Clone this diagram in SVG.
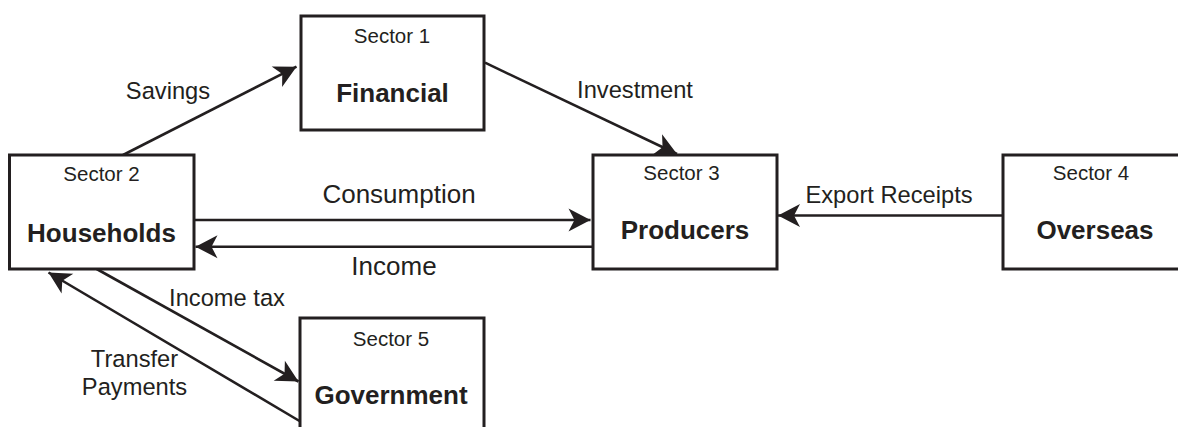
<svg xmlns="http://www.w3.org/2000/svg" width="1178" height="427" viewBox="0 0 1178 427">
  <style>
    .box { fill: #ffffff; stroke: #231f20; stroke-width: 3; }
    .flow { fill: none; stroke: #231f20; stroke-width: 2.6; marker-end: url(#head); }
    .plain { fill: none; stroke: #231f20; stroke-width: 2.6; }
    text { font-family: "Liberation Sans", Arial, sans-serif; fill: #231f20; text-anchor: middle; }
    .sector { font-size: 20.5px; }
    .name { font-size: 26px; font-weight: bold; }
    .label { font-size: 23.7px; }
    .big { font-size: 26px; }
  </style>
  <defs>
    <marker id="head" markerUnits="userSpaceOnUse" viewBox="-23 -12 24 24" refX="0" refY="0" markerWidth="24" markerHeight="24" orient="auto">
      <path d="M0,0 L-22,-11.5 L-16,0 L-22,11.5 Z" fill="#231f20"/>
    </marker>
  </defs>
  <rect width="1178" height="427" fill="#ffffff"/>

  <!-- flows between sectors -->
  <g id="connectors">
    <line class="flow" x1="123" y1="155" x2="296.5" y2="66.7"/>
    <line class="flow" x1="485" y1="62.7" x2="677" y2="154"/>
    <line class="flow" x1="194" y1="220" x2="590.5" y2="220"/>
    <line class="flow" x1="592" y1="246.7" x2="195.5" y2="246.7"/>
    <line class="flow" x1="1002" y1="215.5" x2="778" y2="215.5"/>
    <line class="flow" x1="96.7" y1="269" x2="298.5" y2="381.5"/>
    <line class="flow" x1="299.5" y1="421" x2="48.5" y2="272.5"/>
    <text class="label" x="168" y="99">Savings</text>
    <text class="label" x="635" y="98.3">Investment</text>
    <text class="big" x="399" y="202.7">Consumption</text>
    <text class="big" x="394" y="275">Income</text>
    <text class="label" x="889" y="203.3">Export Receipts</text>
    <text class="label" x="227" y="305.7">Income tax</text>
    <text class="label" x="134.5" y="366.7">Transfer</text>
    <text class="label" x="134.5" y="395">Payments</text>
  </g>

  <g id="sector1">
    <rect class="box" x="301" y="16" width="183" height="114"/>
    <text class="sector" x="392" y="43.3">Sector 1</text>
    <text class="name" x="392.5" y="101.7">Financial</text>
  </g>

  <g id="sector2">
    <rect class="box" x="9.5" y="155" width="184.5" height="114"/>
    <text class="sector" x="101.5" y="180.7">Sector 2</text>
    <text class="name" x="101.5" y="241.7">Households</text>
  </g>

  <g id="sector3">
    <rect class="box" x="593" y="155" width="184" height="114"/>
    <text class="sector" x="681.5" y="180">Sector 3</text>
    <text class="name" x="685" y="239.3">Producers</text>
  </g>

  <g id="sector4">
    <rect class="box" x="1003" y="155" width="184" height="114"/>
    <text class="sector" x="1091" y="180">Sector 4</text>
    <text class="name" x="1095" y="238.7">Overseas</text>
  </g>

  <g id="sector5">
    <rect class="box" x="300" y="318" width="184" height="114"/>
    <text class="sector" x="391" y="345.7">Sector 5</text>
    <text class="name" x="391" y="404.3">Government</text>
  </g>
</svg>
